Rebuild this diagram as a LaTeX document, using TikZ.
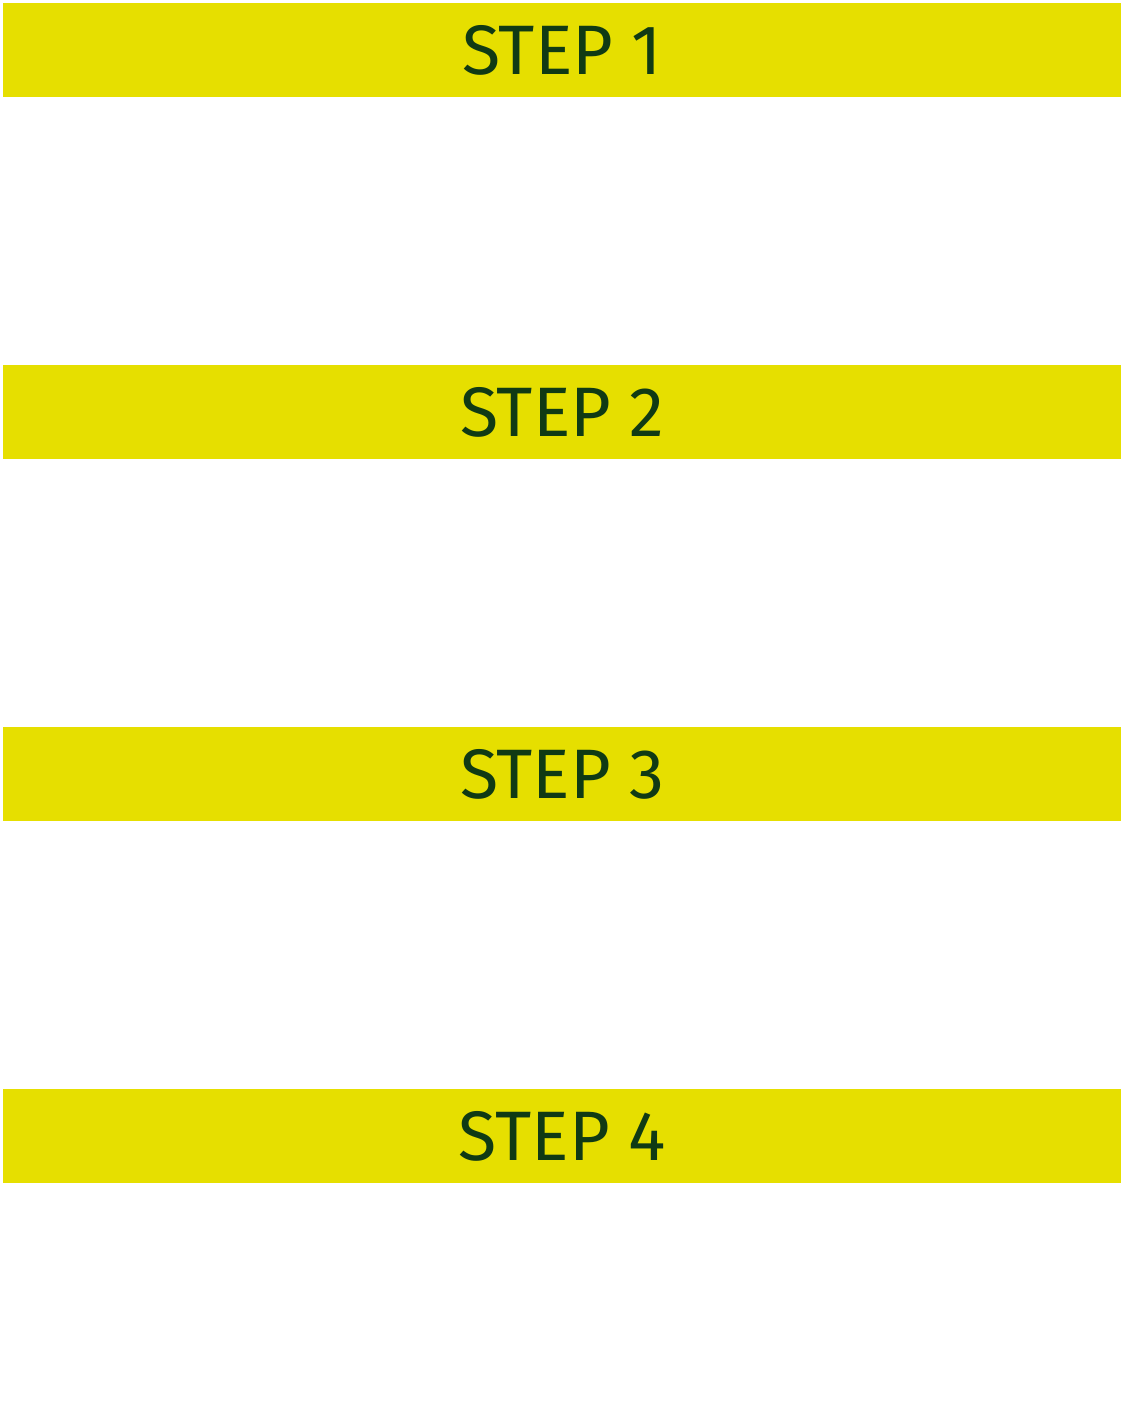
\documentclass[tikz,border=0pt]{standalone}
\usepackage{fontspec}
\setmainfont{Fira Sans}
\definecolor{baryellow}{HTML}{E6DF00}
\definecolor{bartext}{HTML}{103A14}
\begin{document}
\begin{tikzpicture}[x=1pt,y=-1pt,
  stepbar/.style={fill=baryellow,draw=none,minimum width=1118pt,minimum height=94pt,inner sep=0pt,anchor=north west,
    text=bartext,font=\fontsize{70}{70}\selectfont}]
\useasboundingbox (0,0) rectangle (1124,1427);
\node[stepbar] (s1) at (3,3) {STEP 1};
\node[stepbar] (s2) at (3,365) {STEP 2};
\node[stepbar] (s3) at (3,727) {STEP 3};
\node[stepbar] (s4) at (3,1089) {STEP 4};
\end{tikzpicture}
\end{document}
